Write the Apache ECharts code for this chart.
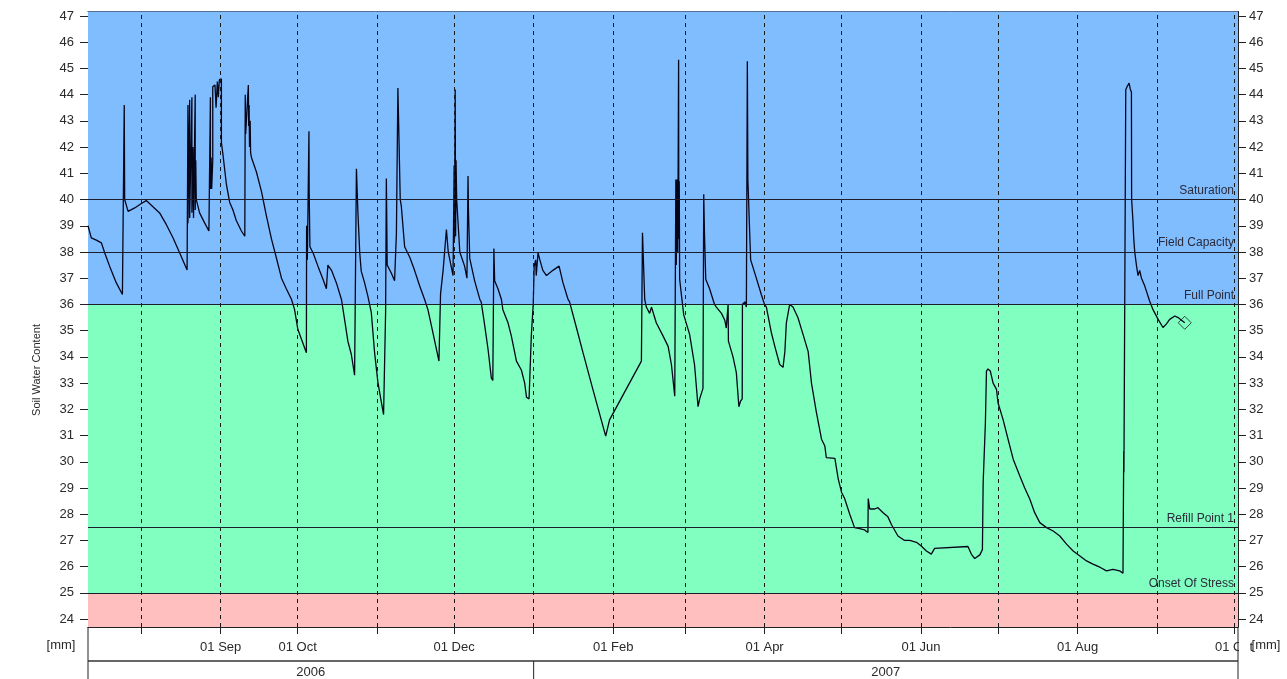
<!DOCTYPE html>
<html><head><meta charset="utf-8">
<script src="https://cdn.jsdelivr.net/npm/echarts@6/dist/echarts.min.js"></script>
<style>html,body{margin:0;padding:0;background:#fff}#c{width:1287px;height:679px}</style>
</head><body><div id="c"></div>
<script>
// ---------------- DATA ----------------
const swcReadings = [
['2006-07-11 07',39.0],['2006-07-12 14',38.54],['2006-07-14 13',38.45],['2006-07-16 12',38.35],['2006-07-17 19',37.97],
['2006-07-19 17',37.46],['2006-07-22 07',36.83],['2006-07-24 17',36.38],['2006-07-25 10',36.4],['2006-07-25 10',43.6],
['2006-07-25 14',40.0],['2006-07-26 22',39.55],['2006-07-29 12',39.68],['2006-08-01 02',39.85],['2006-08-03 00',39.96],
['2006-08-08 05',39.49],['2006-08-10 19',39.05],['2006-08-13 10',38.54],['2006-08-16 00',37.97],['2006-08-18 22',37.31],
['2006-08-19 06',43.6],['2006-08-19 06',39.1],['2006-08-19 22',43.8],['2006-08-19 22',39.3],['2006-08-20 19',43.9],
['2006-08-20 19',39.5],['2006-08-21 05',42.0],['2006-08-21 10',39.3],['2006-08-22 02',44.0],['2006-08-22 02',39.6],
['2006-08-22 07',41.5],['2006-08-22 12',40.0],['2006-08-23 19',39.49],['2006-08-25 19',39.1],['2006-08-27 10',38.8],
['2006-08-28 00',43.9],['2006-08-28 00',40.4],['2006-08-28 07',41.6],['2006-08-28 12',40.4],['2006-08-28 22',41.5],
['2006-08-28 22',44.3],['2006-08-29 19',44.37],['2006-08-30 05',43.5],['2006-08-30 17',44.5],['2006-08-31 02',43.9],
['2006-08-31 12',44.57],['2006-09-01 07',44.6],['2006-09-01 07',42.17],['2006-09-01 22',41.7],['2006-09-03 05',40.6],
['2006-09-04 12',39.9],['2006-09-05 19',39.6],['2006-09-07 02',39.2],['2006-09-09 02',38.8],['2006-09-10 10',38.6],
['2006-09-10 14',44.0],['2006-09-10 18',42.5],['2006-09-11 19',44.37],['2006-09-11 22',42.8],['2006-09-12 02',43.6],
['2006-09-12 06',42.0],['2006-09-12 12',43.0],['2006-09-12 16',41.8],['2006-09-13 00',41.6],['2006-09-14 22',41.06],
['2006-09-16 22',40.3],['2006-09-18 19',39.4],['2006-09-20 19',38.5],['2006-09-22 17',37.78],['2006-09-24 17',37.0],
['2006-09-26 14',36.6],['2006-09-28 14',36.2],['2006-09-29 19',35.81],['2006-10-01 02',35.05],['2006-10-02 12',34.67],
['2006-10-04 10',34.16],['2006-10-04 12',39.0],['2006-10-04 19',37.7],['2006-10-05 10',42.6],['2006-10-05 12',40.3],
['2006-10-05 19',38.2],['2006-10-07 00',37.97],['2006-10-08 22',37.46],['2006-10-10 22',36.95],['2006-10-12 05',36.6],
['2006-10-12 19',37.5],['2006-10-14 05',37.3],['2006-10-16 02',36.83],['2006-10-18 02',36.19],['2006-10-19 07',35.43],
['2006-10-20 14',34.6],['2006-10-21 22',34.1],['2006-10-23 05',33.3],['2006-10-23 22',41.17],['2006-10-24 12',39.5],
['2006-10-25 05',37.97],['2006-10-25 19',37.27],['2006-10-27 02',36.83],['2006-10-28 10',36.3],['2006-10-29 17',35.7],
['2006-10-31 00',34.16],['2006-11-01 07',33.03],['2006-11-02 14',32.3],['2006-11-03 12',31.8],['2006-11-04 07',35.7],
['2006-11-04 14',40.8],['2006-11-04 22',37.5],['2006-11-06 12',37.2],['2006-11-07 19',36.9],['2006-11-08 12',38.7],
['2006-11-09 02',44.25],['2006-11-09 19',44.25],['2006-11-10 00',40.0],['2006-11-10 10',39.75],['2006-11-11 17',38.2],
['2006-11-13 17',37.8],['2006-11-15 14',37.3],['2006-11-17 14',36.7],['2006-11-19 12',36.19],['2006-11-20 19',35.8],
['2006-11-22 19',34.9],['2006-11-25 02',33.84],['2006-11-25 17',36.4],['2006-11-26 17',37.3],['2006-11-28 00',38.86],
['2006-11-28 17',38.0],['2006-11-30 14',37.1],['2006-12-01 00',41.3],['2006-12-01 04',38.5],['2006-12-01 10',44.2],
['2006-12-01 14',38.6],['2006-12-01 18',41.5],['2006-12-02 00',40.0],['2006-12-03 05',38.0],['2006-12-05 02',37.46],
['2006-12-06 00',37.0],['2006-12-06 10',40.9],['2006-12-06 14',39.6],['2006-12-07 02',37.76],['2006-12-09 00',36.9],
['2006-12-11 00',36.2],['2006-12-11 14',36.08],['2006-12-12 22',35.2],['2006-12-14 05',34.3],['2006-12-15 12',33.2],
['2006-12-16 02',33.1],['2006-12-16 12',38.13],['2006-12-16 19',36.9],['2006-12-18 02',36.6],['2006-12-19 10',36.2],
['2006-12-20 00',35.8],['2006-12-22 00',35.3],['2006-12-23 07',34.8],['2006-12-25 07',33.84],['2006-12-27 05',33.5],
['2006-12-28 12',33.0],['2006-12-29 05',32.46],['2006-12-30 05',32.4],['2006-12-31 02',34.8],['2006-12-31 20',36.0],
['2007-01-01 05',37.46],['2007-01-01 19',37.7],['2007-01-02 00',37.1],['2007-01-02 17',37.97],['2007-01-03 10',37.7],
['2007-01-04 14',37.3],['2007-01-06 00',37.1],['2007-01-08 12',37.3],['2007-01-10 22',37.46],['2007-01-12 10',36.83],
['2007-01-14 10',36.19],['2007-01-15 00',36.1],['2007-01-17 17',35.1],['2007-01-20 05',34.17],['2007-01-24 02',32.76],
['2007-01-29 02',30.98],['2007-01-30 14',31.6],['2007-02-12 00',33.84],['2007-02-12 10',38.73],['2007-02-13 07',36.19],
['2007-02-13 22',35.9],['2007-02-15 05',35.66],['2007-02-15 22',35.9],['2007-02-17 19',35.3],['2007-02-20 10',34.8],
['2007-02-22 10',34.4],['2007-02-23 17',33.7],['2007-02-25 00',32.5],['2007-02-25 10',40.76],['2007-02-25 14',37.5],
['2007-02-25 22',40.76],['2007-02-26 04',38.0],['2007-02-26 12',45.33],['2007-02-26 14',38.5],['2007-02-26 18',40.7],
['2007-02-26 22',36.96],['2007-02-27 19',36.19],['2007-02-28 12',35.6],['2007-03-02 19',34.86],['2007-03-04 17',33.7],
['2007-03-06 02',32.1],['2007-03-06 17',32.4],['2007-03-08 00',32.8],['2007-03-08 07',40.2],['2007-03-08 14',38.7],
['2007-03-09 02',36.96],['2007-03-10 14',36.6],['2007-03-12 12',36.0],['2007-03-13 05',35.9],['2007-03-15 05',35.66],
['2007-03-16 12',35.4],['2007-03-17 02',35.1],['2007-03-17 19',36.0],['2007-03-17 22',34.6],['2007-03-19 17',34.0],
['2007-03-21 00',33.4],['2007-03-22 00',32.1],['2007-03-22 14',32.3],['2007-03-23 07',32.4],['2007-03-23 09',36.0],
['2007-03-24 07',36.1],['2007-03-24 22',35.9],['2007-03-25 07',45.27],['2007-03-25 12',40.76],['2007-03-26 05',38.73],
['2007-03-26 14',37.7],['2007-03-28 12',37.1],['2007-03-30 19',36.36],['2007-04-01 00',36.0],['2007-04-01 17',35.9],
['2007-04-03 17',34.9],['2007-04-05 00',34.4],['2007-04-06 22',33.71],['2007-04-08 05',33.6],['2007-04-08 22',34.2],
['2007-04-09 12',35.3],['2007-04-10 19',36.0],['2007-04-12 02',35.9],['2007-04-14 00',35.5],['2007-04-16 00',34.86],
['2007-04-18 00',34.2],['2007-04-19 07',33.0],['2007-04-21 05',31.88],['2007-04-23 05',30.86],['2007-04-24 12',30.6],
['2007-04-25 02',30.16],['2007-04-28 10',30.13],['2007-04-29 17',29.35],['2007-05-01 00',28.84],['2007-05-02 05',28.6],
['2007-05-04 05',28.0],['2007-05-06 02',27.49],['2007-05-08 02',27.45],['2007-05-10 00',27.4],['2007-05-11 07',27.3],
['2007-05-11 10',28.6],['2007-05-12 00',28.2],['2007-05-13 22',28.2],['2007-05-15 05',28.25],['2007-05-17 05',28.06],
['2007-05-19 02',27.9],['2007-05-20 12',27.6],['2007-05-23 00',27.17],['2007-05-25 14',27.0],['2007-05-27 14',27.0],
['2007-05-30 05',26.93],['2007-06-01 02',26.79],['2007-06-03 02',26.6],['2007-06-05 00',26.48],['2007-06-06 07',26.7],
['2007-06-19 07',26.77],['2007-06-20 14',26.48],['2007-06-21 22',26.31],['2007-06-23 22',26.45],['2007-06-24 22',26.65],
['2007-06-25 05',29.2],['2007-06-26 02',31.5],['2007-06-26 12',33.46],['2007-06-27 02',33.54],['2007-06-28 00',33.46],
['2007-06-29 02',33.0],['2007-06-30 10',32.76],['2007-07-01 00',32.25],['2007-07-03 00',31.6],['2007-07-04 22',30.86],
['2007-07-06 22',30.1],['2007-07-09 12',29.46],['2007-07-11 10',29.0],['2007-07-13 10',28.57],['2007-07-15 07',28.06],
['2007-07-17 07',27.68],['2007-07-19 22',27.49],['2007-07-22 12',27.36],['2007-07-25 02',27.17],['2007-07-27 17',26.86],
['2007-07-30 07',26.6],['2007-08-01 22',26.41],['2007-08-04 12',26.22],['2007-08-07 00',26.1],['2007-08-09 17',25.98],
['2007-08-12 07',25.84],['2007-08-14 19',25.9],['2007-08-17 10',25.84],['2007-08-18 17',25.75],['2007-08-19 00',30.4],
['2007-08-19 02',29.6],['2007-08-19 19',44.19],['2007-08-20 07',44.3],['2007-08-21 02',44.44],['2007-08-21 14',44.2],
['2007-08-22 00',44.1],['2007-08-22 02',40.0],['2007-08-22 14',39.2],['2007-08-22 22',38.5],['2007-08-23 07',38.0],
['2007-08-24 00',37.46],['2007-08-24 14',37.1],['2007-08-25 05',37.3],['2007-08-25 22',37.0],['2007-08-27 05',36.7],
['2007-08-29 02',36.13],['2007-08-30 10',35.8],['2007-09-01 10',35.43],['2007-09-03 07',35.12],['2007-09-04 14',35.25],
['2007-09-05 22',35.43],['2007-09-07 22',35.56],['2007-09-09 05',35.5],['2007-09-10 12',35.4],['2007-09-11 19',35.3]
];
const thresholdNames  = ['Saturation','Field Capacity','Full Point','Refill Point 1','Onset Of Stress'];
const thresholdValues = [40, 38, 36, 27.5, 25];
const zoneFull = 36, zoneStress = 25;
const yTicks = [24,25,26,27,28,29,30,31,32,33,34,35,36,37,38,39,40,41,42,43,44,45,46,47];
const monthStarts = ['2006-08-01','2006-09-01','2006-10-01','2006-11-01','2006-12-01','2007-01-01','2007-02-01',
  '2007-03-01','2007-04-01','2007-05-01','2007-06-01','2007-07-01','2007-08-01','2007-09-01','2007-10-01'];
const labelledMonths = ['2006-09-01','2006-10-01','2006-12-01','2007-02-01','2007-04-01','2007-06-01','2007-08-01','2007-10-01'];
const monthNames = ['Jan','Feb','Mar','Apr','May','Jun','Jul','Aug','Sep','Oct','Nov','Dec'];
const yearLabels = ['2006','2007'];
const yearBreak = '2007-01-01';
const xStart = '2006-07-11 07', xEnd = '2007-10-02 13';
const yMin = 23.7, yMax = 47.17;

// ---------------- CHART ----------------
function ts(s){const [d,t]=s.split(' ');const [Y,M,D]=d.split('-').map(Number);return new Date(Y,M-1,D,t?+t:0).getTime();}
const FONT = 'Liberation Sans, Arial, sans-serif';
const TXT = '#2a2a2a';
const chart = echarts.init(document.getElementById('c'), null, {renderer:'canvas'});
const G = {left:88, right:49, top:11.5, bottom:52};
const lineData = swcReadings.map(r=>[ts(r[0]), r[1]]);
const last = lineData[lineData.length-1];

const option = {
  animation:false,
  backgroundColor:'#fff',
  textStyle:{fontFamily:FONT},
  grid:{left:G.left, right:G.right, top:G.top, bottom:G.bottom, containLabel:false, outerBoundsMode:'none'},
  xAxis:[{
    type:'value', position:'bottom', min:ts(xStart), max:ts(xEnd), scale:true,
    axisLine:{show:true, onZero:false, lineStyle:{color:'#222', width:1}},
    axisTick:{show:true, customValues:monthStarts.map(ts), length:7, lineStyle:{color:'#222'}},
    axisLabel:{show:true, customValues:labelledMonths.map(ts), margin:14, fontSize:13, color:TXT, fontFamily:FONT,
      formatter:v=>'01 '+monthNames[new Date(v).getMonth()]},
    splitLine:{show:false}
  },{
    type:'value', position:'top', min:ts(xStart), max:ts(xEnd), scale:true,
    axisLine:{show:true, onZero:false, lineStyle:{color:'#222', width:1}},
    axisTick:{show:false}, axisLabel:{show:false}, splitLine:{show:false}
  }],
  yAxis:[{
    type:'value', position:'left', min:yMin, max:yMax,
    axisLine:{show:true, onZero:false, lineStyle:{color:'#222', width:1}},
    axisTick:{show:true, customValues:yTicks, length:8, lineStyle:{color:'#222'}},
    axisLabel:{show:true, customValues:yTicks, margin:14, fontSize:13, color:TXT, fontFamily:FONT},
    splitLine:{show:false}
  },{
    type:'value', position:'right', min:yMin, max:yMax,
    axisLine:{show:true, onZero:false, lineStyle:{color:'#222', width:1}},
    axisTick:{show:true, customValues:yTicks, length:8, lineStyle:{color:'#222'}},
    axisLabel:{show:true, customValues:yTicks, margin:11, fontSize:13, color:TXT, fontFamily:FONT},
    splitLine:{show:false}
  }],
  series:[
    { // zones
      type:'line', data:[], z:1, silent:true,
      markArea:{silent:true, data:[
        [{yAxis:zoneFull, itemStyle:{color:'#80bdff'}},{yAxis:yMax}],
        [{yAxis:zoneStress, itemStyle:{color:'#80ffc0'}},{yAxis:zoneFull}],
        [{yAxis:yMin, itemStyle:{color:'#ffbfbf'}},{yAxis:zoneStress}]
      ]}
    },
    { // month dashed lines and thresholds
      type:'line', data:[], z:2, silent:true,
      markLine:{silent:true, symbol:'none', animation:false,
        data: monthStarts.map(m=>({xAxis:ts(m), lineStyle:{type:[4,4], color:'#1a1a1a', width:1}, label:{show:false}}))
          .concat(thresholdValues.map((v,i)=>({yAxis:v, lineStyle:{type:'solid', color:'#1c1c2c', width:1.2},
            label:{show:true, position:'insideEndTop', formatter:thresholdNames[i], color:'#2a2a3a', fontSize:12, fontFamily:FONT, distance:[4,3]}})))
      }
    },
    {
      name:'Soil Water Content', type:'line', data:lineData, z:3, showSymbol:false, symbol:'none',
      lineStyle:{color:'#05051a', width:1.3}, silent:true
    },
    {
      type:'scatter', data:[last], z:4, symbol:'diamond', symbolSize:13, silent:true,
      itemStyle:{color:'rgba(0,0,0,0)', borderColor:'#1a1a2a', borderWidth:1}
    }
  ]
};
chart.setOption(option);

const xL = chart.convertToPixel({xAxisIndex:0}, ts(xStart));
const xR = chart.convertToPixel({xAxisIndex:0}, ts(xEnd));
const xJan = chart.convertToPixel({xAxisIndex:0}, ts(yearBreak));
const yBot = chart.convertToPixel({yAxisIndex:0}, yMin);
const H = 679;
const bandY = yBot + 34;
chart.setOption({graphic:[
  {type:'rect', z:100, shape:{x:xR+1, y:yBot+9, width:11, height:20}, style:{fill:'#fff'}},
  {type:'line', z:101, shape:{x1:xL, y1:yBot, x2:xL, y2:H}, style:{stroke:'#222', lineWidth:1}},
  {type:'line', z:101, shape:{x1:xR, y1:yBot, x2:xR, y2:H}, style:{stroke:'#222', lineWidth:1}},
  {type:'line', z:101, shape:{x1:xL, y1:bandY, x2:xR, y2:bandY}, style:{stroke:'#333', lineWidth:1.5}},
  {type:'line', z:101, shape:{x1:xJan, y1:bandY, x2:xJan, y2:H}, style:{stroke:'#222', lineWidth:1}},
  {type:'text', z:101, x:(xL+xJan)/2, y:bandY+11, style:{text:yearLabels[0], fill:TXT, font:'13px '+FONT, align:'center', verticalAlign:'middle'}},
  {type:'text', z:101, x:(xJan+xR)/2, y:bandY+11, style:{text:yearLabels[1], fill:TXT, font:'13px '+FONT, align:'center', verticalAlign:'middle'}},
  {type:'text', z:101, x:xL-27, y:yBot+18, style:{text:'[mm]', fill:TXT, font:'13px '+FONT, align:'center', verticalAlign:'middle'}},
  {type:'text', z:101, x:xR+28, y:yBot+18, style:{text:'[mm]', fill:TXT, font:'13px '+FONT, align:'center', verticalAlign:'middle'}},
  {type:'text', z:101, x:37, y:370, rotation:Math.PI/2, style:{text:'Soil Water Content', fill:TXT, font:'11px '+FONT, align:'center', verticalAlign:'middle'}}
]});
</script></body></html>
